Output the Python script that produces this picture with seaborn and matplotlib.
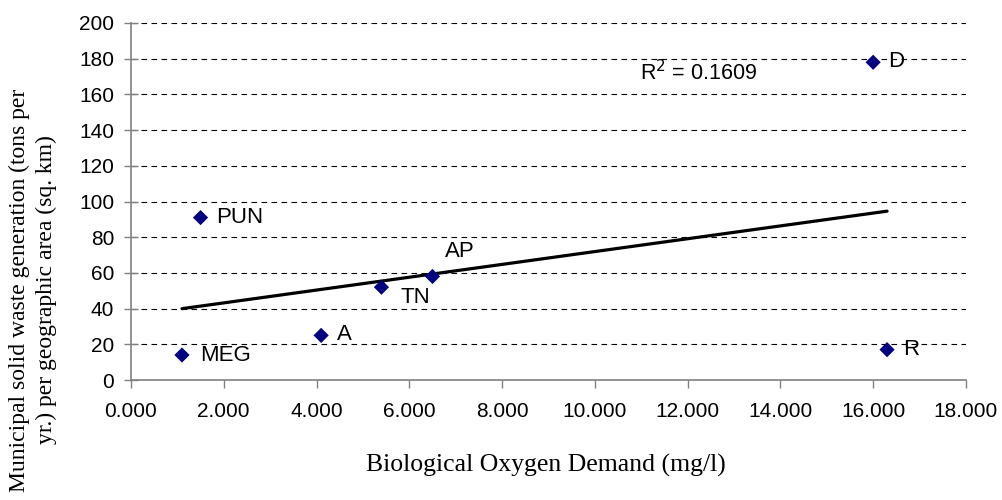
import numpy as np
import pandas as pd
import matplotlib
matplotlib.use("Agg")
import matplotlib.pyplot as plt
from matplotlib.ticker import FormatStrFormatter
import seaborn as sns

states = ["MEG", "PUN", "A", "TN", "AP", "D", "R"]
bod = [1.1, 1.5, 4.1, 5.4, 6.5, 16.0, 16.3]
msw = [14, 91, 25, 52, 58, 178, 17]
r2_text = "R$^2$ = 0.1609"

# label offsets in pixels (dx, dy)
offsets = {"MEG": (18, 0), "PUN": (16, 0), "A": (16, 1), "TN": (19, -10),
           "AP": (12, 25), "D": (15, 1), "R": (16, 0)}

df = pd.DataFrame({"state": states, "bod": bod, "msw": msw})

sns.set_style("white")
plt.rcParams["font.family"] = ["Liberation Sans", "DejaVu Sans"]
plt.rcParams["text.color"] = "black"
plt.rcParams["xtick.labelcolor"] = "black"
plt.rcParams["ytick.labelcolor"] = "black"

fig = plt.figure(figsize=(10.02, 5.0), dpi=100)
ax = fig.add_axes([0.1307, 0.24, 0.8333, 0.714])

sns.regplot(data=df, x="bod", y="msw", scatter=False, ci=None, truncate=True,
            line_kws={"color": "black", "lw": 2.3}, ax=ax)
sns.scatterplot(data=df, x="bod", y="msw", marker="D", color="#000080",
                s=60, edgecolor="none", ax=ax, zorder=4)

for _, row in df.iterrows():
    dx, dy = offsets[row["state"]]
    ax.annotate(row["state"], (row["bod"], row["msw"]), xytext=(dx, dy),
                textcoords="offset pixels", ha="left", va="center",
                fontsize=16, color="black")

ax.text(10.97, 172.0, r2_text, ha="left", va="center", fontsize=15.5,
        color="black")

ax.set_xlim(0, 18)
ax.set_ylim(0, 200)
ax.set_xticks(np.arange(0, 18.1, 2))
ax.set_yticks(np.arange(0, 201, 20))
ax.xaxis.set_major_formatter(FormatStrFormatter("%.3f"))
ax.tick_params(axis="both", labelsize=15, width=1, color="#808080",
               labelcolor="black", bottom=True, left=True)
ax.tick_params(axis="x", direction="out", length=6, pad=10)
ax.tick_params(axis="y", direction="inout", length=10, pad=7)

for y in np.arange(20, 201, 20):
    ax.axhline(y, color="black", lw=0.8, ls=(0, (5, 4)), zorder=0)

for side in ["top", "right"]:
    ax.spines[side].set_visible(False)
for side in ["left", "bottom"]:
    ax.spines[side].set_color("#808080")
    ax.spines[side].set_linewidth(1.2)

ax.set_xlabel("")
ax.set_ylabel("")
fig.text(546 / 1002, 1 - 465 / 500, "Biological Oxygen Demand (mg/l)",
         ha="center", va="center", fontsize=18.5, color="black",
         family=["Liberation Serif"])
fig.text(33 / 1002, 1 - 290 / 500,
         "Municipal solid waste generation (tons per\nyr.) per geographic area (sq. km)",
         ha="center", va="center", rotation=90, multialignment="center",
         fontsize=17, color="black", family=["Liberation Serif"],
         linespacing=1.35)

fig.savefig("out.png", dpi=100)
